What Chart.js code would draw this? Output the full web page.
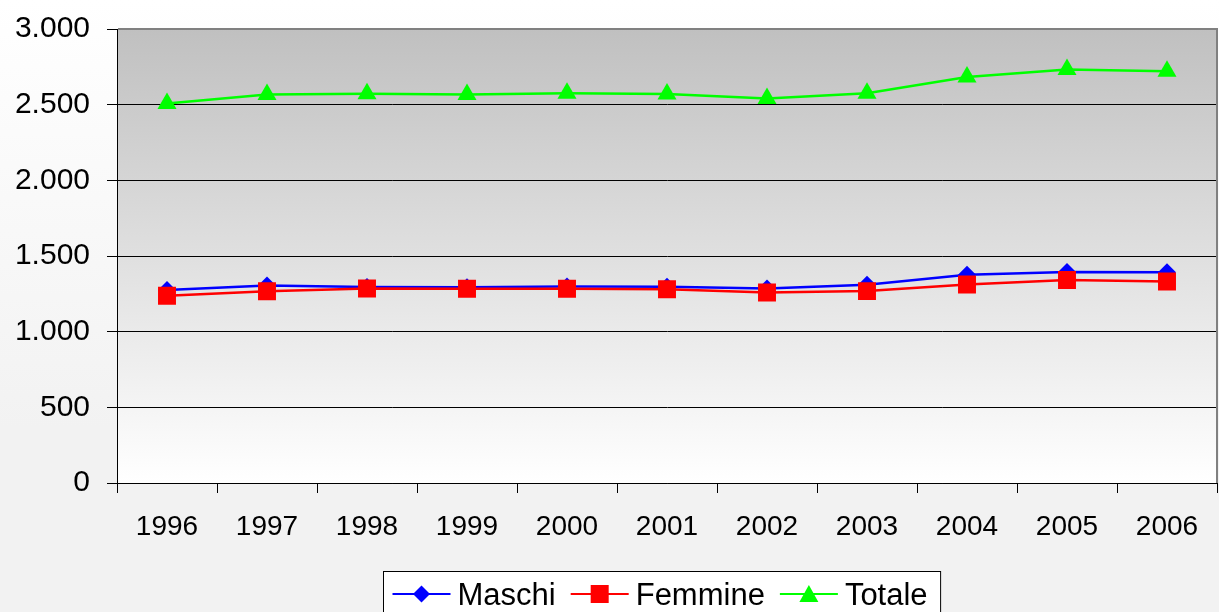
<!DOCTYPE html>
<html>
<head>
<meta charset="utf-8">
<script src="https://cdn.jsdelivr.net/npm/chart.js@4.4.0/dist/chart.umd.min.js"></script>
<style>
  html, body { margin: 0; padding: 0; background: #f2f2f2; }
  #wrap { width: 1219px; height: 612px; position: relative; }
</style>
</head>
<body>
<div id="wrap"><canvas id="myCanvas"></canvas></div>
<script>
const years = ['1996', '1997', '1998', '1999', '2000', '2001', '2002', '2003', '2004', '2005', '2006'];
const maschi = [1275, 1305, 1295, 1293, 1298, 1296, 1285, 1310, 1376, 1395, 1393];
const femmine = [1238, 1267, 1285, 1283, 1284, 1280, 1259, 1268, 1312, 1342, 1331];
const totale = [2508, 2567, 2572, 2568, 2575, 2570, 2540, 2575, 2683, 2733, 2720];

const FONT = '"Liberation Sans", Arial, sans-serif';
Chart.defaults.font.family = FONT;
Chart.defaults.color = '#000';

// 1000 -> "1.000"
const fmt = v => String(v).replace(/\B(?=(\d{3})+(?!\d))/g, '.');

const ctx = document.getElementById('myCanvas').getContext('2d');

const backgrounds = {
    id: 'backgrounds',
    beforeDraw(chart) {
        const { ctx, chartArea: a, width, height } = chart;
        ctx.save();
        let g = ctx.createLinearGradient(0, 0, 0, height);
        g.addColorStop(0, '#ffffff');
        g.addColorStop(0.7, '#f2f2f2');
        g.addColorStop(1, '#f2f2f2');
        ctx.fillStyle = g;
        ctx.fillRect(0, 0, width, height);
        g = ctx.createLinearGradient(0, a.top, 0, a.bottom);
        g.addColorStop(0, '#c0c0c0');
        g.addColorStop(1, '#ffffff');
        ctx.fillStyle = g;
        ctx.fillRect(a.left, a.top, a.right - a.left, a.bottom - a.top);
        ctx.restore();
    },
    beforeDatasetsDraw(chart) {
        // grey frame on top and right of the plot area
        const { ctx, chartArea: a } = chart;
        ctx.save();
        ctx.strokeStyle = '#808080';
        ctx.lineWidth = 2;
        ctx.beginPath();
        ctx.moveTo(a.left + 1, a.top);
        ctx.lineTo(a.right, a.top);
        ctx.lineTo(a.right, a.bottom);
        ctx.stroke();
        ctx.restore();
    }
};

function marker(ctx, style, x, y, color) {
    ctx.fillStyle = color;
    ctx.beginPath();
    if (style === 'rectRot') {
        const r = 8.5;
        ctx.moveTo(x, y - r); ctx.lineTo(x + r, y); ctx.lineTo(x, y + r); ctx.lineTo(x - r, y);
    } else if (style === 'rect') {
        ctx.rect(x - 9, y - 9, 18, 18);
    } else {
        ctx.moveTo(x, y - 9); ctx.lineTo(x + 9.5, y + 8); ctx.lineTo(x - 9.5, y + 8);
    }
    ctx.closePath();
    ctx.fill();
}

const legendBox = {
    id: 'legendBox',
    afterDraw(chart) {
        const { ctx } = chart;
        const items = chart.data.datasets;
        ctx.save();
        ctx.font = '31px ' + FONT;
        const lineW = 58, gapText = 7, gapItem = 15, padL = 9, padR = 13;
        const widths = items.map(d => ctx.measureText(d.label).width);
        const total = widths.reduce((s, w) => s + lineW + gapText + w, 0) + gapItem * (items.length - 1) + padL + padR;
        const left = 383.5;
        const top = 571.5;
        ctx.fillStyle = '#ffffff';
        ctx.fillRect(left, top, total, 60);
        ctx.strokeStyle = '#000';
        ctx.lineWidth = 1;
        ctx.strokeRect(left, top, total, 60);
        let x = left + padL;
        const cy = 594;
        items.forEach((d, i) => {
            ctx.strokeStyle = d.borderColor;
            ctx.lineWidth = 2;
            ctx.beginPath();
            ctx.moveTo(x, cy);
            ctx.lineTo(x + lineW, cy);
            ctx.stroke();
            marker(ctx, d.pointStyle, x + lineW / 2, cy, d.borderColor);
            x += lineW + gapText;
            ctx.fillStyle = '#000';
            ctx.textBaseline = 'alphabetic';
            ctx.fillText(d.label, x, 605);
            x += widths[i] + gapItem;
        });
        ctx.restore();
    }
};

let chart = new Chart(ctx, {
    type: 'line',
    data: {
        labels: years,
        datasets: [{
            label: 'Maschi',
            data: maschi,
            borderColor: '#0000ff',
            backgroundColor: '#0000ff',
            borderWidth: 2.5,
            pointStyle: 'rectRot',
            pointRadius: 9,
            pointBorderWidth: 0,
            order: 3
        }, {
            label: 'Femmine',
            data: femmine,
            borderColor: '#ff0000',
            backgroundColor: '#ff0000',
            borderWidth: 2.5,
            pointStyle: 'rect',
            pointRadius: 12.7,
            pointBorderWidth: 0,
            order: 2
        }, {
            label: 'Totale',
            data: totale,
            borderColor: '#00ff00',
            backgroundColor: '#00ff00',
            borderWidth: 2.5,
            pointStyle: 'triangle',
            pointRadius: 11,
            pointBorderWidth: 0,
            order: 1
        }]
    },
    options: {
        responsive: true,
        maintainAspectRatio: false,
        animation: false,
        layout: { autoPadding: false, padding: { top: 29, right: 2, left: 0, bottom: 0 } },
        scales: {
            y: {
                min: 0,
                max: 3000,
                afterFit: s => {
                    s.width = 117;
                    s.paddingTop = 0;
                    s.paddingBottom = 0;
                },
                ticks: {
                    stepSize: 500,
                    padding: 17,
                    font: { size: 30 },
                    callback: v => fmt(v)
                },
                grid: { color: '#000', lineWidth: 1, tickLength: 10 },
                border: { color: '#000', width: 1 }
            },
            x: {
                offset: true,
                afterFit: s => {
                    s.height = 129;
                    s.paddingLeft = 0;
                    s.paddingRight = 0;
                },
                ticks: { padding: 17, font: { size: 28 }, maxRotation: 0 },
                grid: { offset: true, drawOnChartArea: false, color: '#000', tickLength: 10 },
                border: { color: '#000', width: 1 }
            }
        },
        plugins: {
            legend: { display: false },
            tooltip: { enabled: false }
        }
    },
    plugins: [backgrounds, legendBox]
});
</script>
</body>
</html>
